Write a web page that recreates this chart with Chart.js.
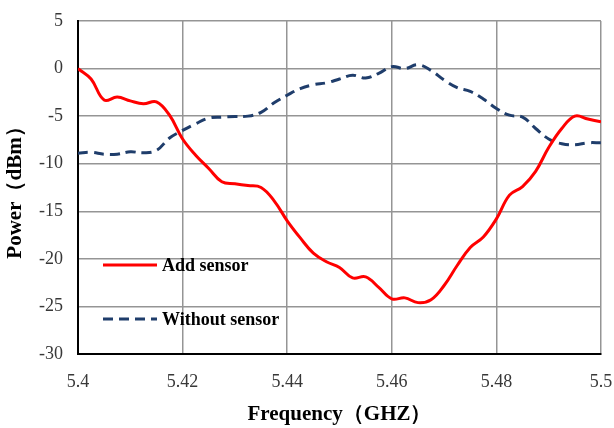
<!DOCTYPE html>
<html>
<head>
<meta charset="utf-8">
<script src="https://cdn.jsdelivr.net/npm/chart.js@4"></script>
<style>
  html, body { margin: 0; padding: 0; background: #fff; }
  #wrap { width: 614px; height: 428px; }
</style>
</head>
<body>
<div id="wrap"><canvas id="chart" width="614" height="428"></canvas></div>
<script>
// frequency (GHz), sampled every 0.0025
const freq = [5.4, 5.4025, 5.405, 5.4075, 5.41, 5.4125, 5.415, 5.4175, 5.42, 5.4225,
  5.425, 5.4275, 5.43, 5.4325, 5.435, 5.4375, 5.44, 5.4425, 5.445, 5.4475,
  5.45, 5.4525, 5.455, 5.4575, 5.46, 5.4625, 5.465, 5.4675, 5.47, 5.4725,
  5.475, 5.4775, 5.48, 5.4825, 5.485, 5.4875, 5.49, 5.4925, 5.495, 5.4975, 5.5];

const addSensor = [0, -1.1, -3.3, -3.0, -3.4, -3.7, -3.5, -4.9, -7.4, -9.1,
  -10.5, -11.9, -12.1, -12.3, -12.5, -13.9, -16.0, -17.8, -19.4, -20.3,
  -20.9, -22.0, -21.9, -23.0, -24.2, -24.1, -24.6, -24.3, -22.8, -20.7,
  -18.8, -17.7, -15.8, -13.3, -12.4, -10.8, -8.3, -6.3, -5.0, -5.3, -5.6];

const withoutSensor = [-8.9, -8.8, -9.0, -9.0, -8.75, -8.85, -8.6, -7.3, -6.5, -5.8,
  -5.2, -5.1, -5.05, -5.0, -4.6, -3.6, -2.8, -2.1, -1.7, -1.5,
  -1.1, -0.7, -1.0, -0.5, 0.2, 0.0, 0.4, -0.2, -1.2, -2.0,
  -2.4, -3.2, -4.2, -4.9, -5.1, -6.3, -7.4, -7.9, -8.0, -7.8, -7.8];

const xTicks = [5.4, 5.42, 5.44, 5.46, 5.48, 5.5];
const seriesNames = ['Add sensor', 'Without sensor'];

const serif = "'Liberation Serif', 'Times New Roman', serif";

function toPoints(ys) {
  return freq.map((f, i) => ({ x: f, y: ys[i] }));
}

// legend drawn inside the plot, lower left
const insideLegend = {
  id: 'insideLegend',
  afterDatasetsDraw(chart) {
    const ctx = chart.ctx;
    const a = chart.chartArea;
    const rows = [
      { y: a.top + 244, ds: chart.data.datasets[0] },
      { y: a.top + 298, ds: chart.data.datasets[1] }
    ];
    ctx.save();
    rows.forEach(r => {
      ctx.strokeStyle = r.ds.borderColor;
      ctx.lineWidth = 3;
      ctx.setLineDash(r.ds.borderDash || []);
      ctx.beginPath();
      ctx.moveTo(a.left + 25, r.y);
      ctx.lineTo(a.left + 79, r.y);
      ctx.stroke();
      ctx.setLineDash([]);
      ctx.fillStyle = '#000';
      ctx.font = 'bold 18px ' + serif;
      ctx.textBaseline = 'middle';
      ctx.fillText(r.ds.label, a.left + 84, r.y + 1);
    });
    ctx.restore();
  }
};

new Chart(document.getElementById('chart'), {
  type: 'line',
  data: {
    datasets: [{
      label: seriesNames[0],
      data: toPoints(addSensor),
      borderColor: '#ff0000',
      borderWidth: 3,
      pointRadius: 0,
      tension: 0.4,
      fill: false
    }, {
      label: seriesNames[1],
      data: toPoints(withoutSensor),
      borderColor: '#1f3d6b',
      borderWidth: 3,
      borderDash: [10, 6],
      pointRadius: 0,
      tension: 0.4,
      fill: false
    }]
  },
  options: {
    responsive: false,
    animation: false,
    layout: { padding: { top: 21, right: 13, left: 0, bottom: 0 } },
    plugins: {
      legend: { display: false },
      tooltip: { enabled: false }
    },
    scales: {
      x: {
        type: 'linear',
        min: 5.4,
        max: 5.5,
        afterBuildTicks: s => { s.ticks = xTicks.map(v => ({ value: v })); },
        afterFit: s => { s.height = 74; s.paddingLeft = 0; s.paddingRight = 0; },
        grid: { color: '#959595', lineWidth: 1.5, drawTicks: false },
        border: { color: '#000', width: 2 },
        ticks: {
          color: '#383838',
          font: { family: serif, size: 18 },
          padding: 17,
          maxRotation: 0,
          callback: v => String(+v.toFixed(2))
        },
        title: {
          display: true,
          text: 'Frequency（GHZ）',
          color: '#000',
          font: { family: serif, size: 21, weight: 'bold' },
          padding: { top: 0, bottom: 1 }
        }
      },
      y: {
        min: -30,
        max: 5,
        afterFit: s => { s.width = 78; s.paddingTop = 0; s.paddingBottom = 0; },
        grid: { color: '#959595', lineWidth: 1.5, drawTicks: false },
        border: { color: '#000', width: 2 },
        ticks: {
          stepSize: 5,
          color: '#383838',
          font: { family: serif, size: 18 },
          padding: 15
        },
        title: {
          display: true,
          text: 'Power（dBm）',
          color: '#000',
          font: { family: serif, size: 21, weight: 'bold' },
          padding: { top: 3, bottom: 0 }
        }
      }
    }
  },
  plugins: [insideLegend]
});
</script>
</body>
</html>
